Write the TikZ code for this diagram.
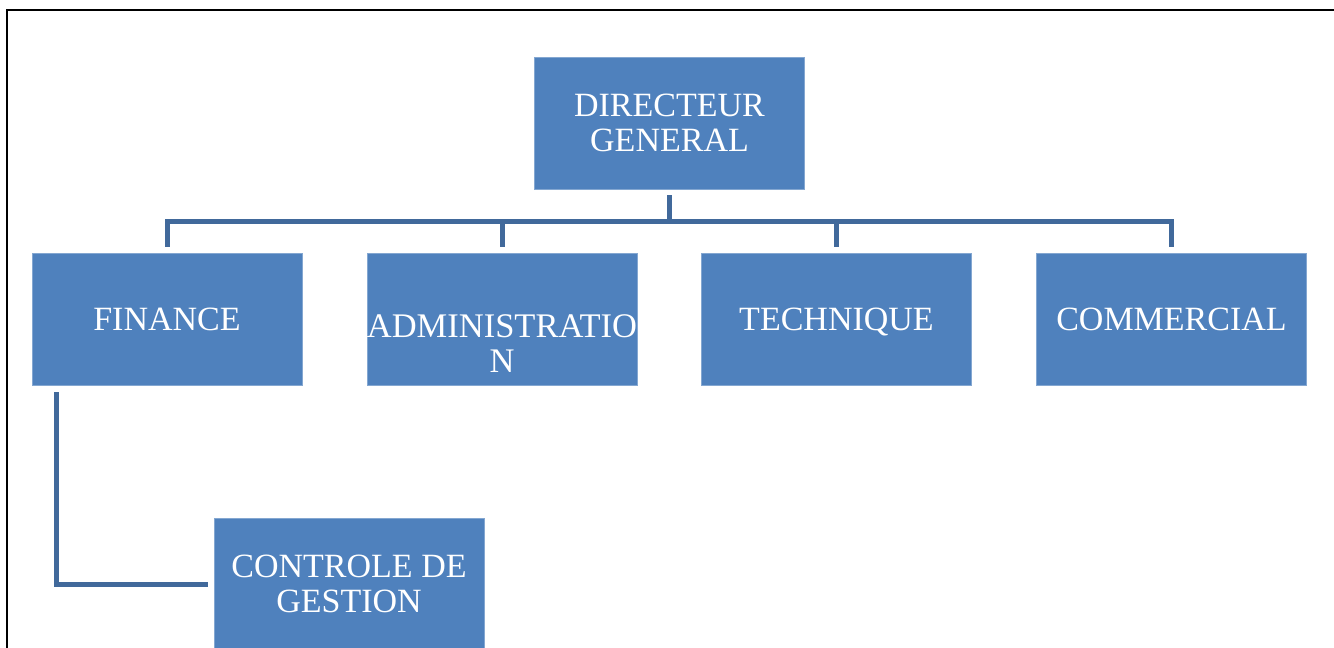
\documentclass[tikz,border=0pt]{standalone}
\usepackage{fontspec}
\setmainfont{Liberation Serif}
\definecolor{boxblue}{RGB}{79,129,189}
\definecolor{linkblue}{RGB}{65,105,155}
\begin{document}
\begin{tikzpicture}[x=1pt,y=-1pt,
  box/.style={rectangle, fill=boxblue, draw=boxblue!70!white, line width=0.8pt,
    minimum width=270pt, minimum height=132pt, inner sep=1pt, text=white,
    align=center, font=\fontsize{34}{35}\selectfont},
  conn/.style={draw=linkblue, line width=5pt, line join=miter},
  frameline/.style={draw=black, line width=2.8pt}]
\useasboundingbox (0,0) rectangle (1334,648);
\draw[frameline] (7,660) -- (7,10) -- (1340,10);

\node[box] (dg) at (669.5,123) {DIRECTEUR\\GENERAL};
\node[box] (fin) at (167,319) {FINANCE};
\node[box] (adm) at (502,319) {};
\node[text=white, align=center, inner sep=0pt, font=\fontsize{34.5}{35}\selectfont] (admtext) at (502,343.5) {ADMINISTRATIO\\N};
\node[box, text depth=0pt] (tech) at (836.5,319) {TECHNIQUE};
\node[box] (com) at (1171.5,319) {COMMERCIAL};
\node[box] (cg) at (349,584) {CONTROLE DE\\GESTION};

\foreach \c in {fin,adm,tech,com}{
  \draw[conn] ([yshift=-6pt]dg.south) -- ++(0,26) -| ([yshift=6pt]\c.north);
}
\draw[conn] ([xshift=25pt,yshift=-7pt]fin.south west) |- ([xshift=-6pt]cg.west);
\end{tikzpicture}
\end{document}
